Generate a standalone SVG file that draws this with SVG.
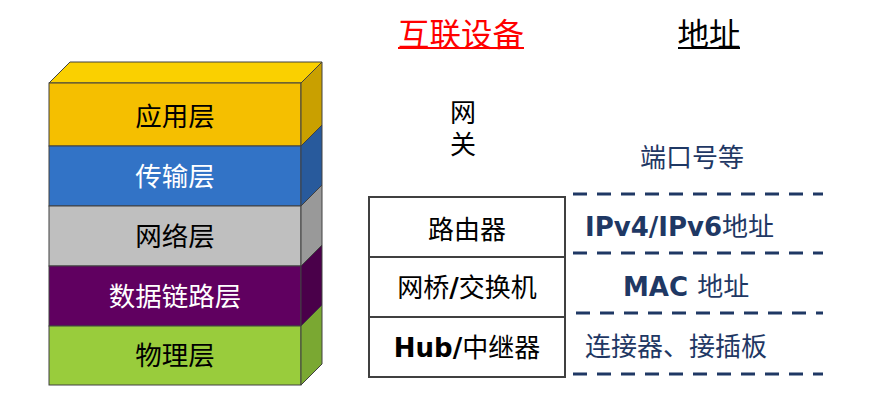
<svg xmlns="http://www.w3.org/2000/svg" width="872" height="400" viewBox="0 0 872 400">
<style>
text{font-family:"Liberation Sans","Noto Sans CJK SC",sans-serif;dominant-baseline:central}
.c{text-anchor:middle}
.lay{font-size:26.5px;text-anchor:middle}
.dark{fill:#000}
.light{fill:#fff}
.edge{stroke:#404040;stroke-width:1}
.dev{fill:#fff;stroke:#404040;stroke-width:2}
.devt{font-size:26px;fill:#000;text-anchor:middle}
.lat{font-family:"DejaVu Sans",sans-serif;font-weight:bold}
.addr{font-size:26px;fill:#1F3864}
.dash{stroke:#1F3864;stroke-width:3;stroke-dasharray:14 10;fill:none}
</style>
<rect width="872" height="400" fill="#fff"/>
<g id="stack">
  <polygon points="49,83 70,62 322,62 301,83" fill="#FAD000" class="edge"/>
  <g id="app">
    <rect x="49" y="83" width="252" height="63" fill="#F5BF00" class="edge"/>
    <polygon points="301,83 322,62 322,125 301,146" fill="#C9A000" class="edge"/>
    <text x="175" y="117" class="lay dark">应用层</text>
  </g>
  <g id="transport">
    <rect x="49" y="146" width="252" height="60" fill="#3273C6" class="edge"/>
    <polygon points="301,146 322,125 322,185 301,206" fill="#285A9C" class="edge"/>
    <text x="175" y="177" class="lay light">传输层</text>
  </g>
  <g id="network">
    <rect x="49" y="206" width="252" height="60" fill="#BFBFBF" class="edge"/>
    <polygon points="301,206 322,185 322,245 301,266" fill="#999999" class="edge"/>
    <text x="175" y="237" class="lay dark">网络层</text>
  </g>
  <g id="datalink">
    <rect x="49" y="266" width="252" height="60" fill="#600060" class="edge"/>
    <polygon points="301,266 322,245 322,305 301,326" fill="#4A004A" class="edge"/>
    <text x="175" y="297" class="lay light">数据链路层</text>
  </g>
  <g id="physical">
    <rect x="49" y="326" width="252" height="59" fill="#99CC3C" class="edge"/>
    <polygon points="301,326 322,305 322,364 301,385" fill="#7AA832" class="edge"/>
    <text x="175" y="356" class="lay dark">物理层</text>
  </g>
</g>
<g id="headers">
  <text x="461" y="35" font-size="31.5" fill="#FF0000" class="c">互联设备</text>
  <line x1="398" y1="48" x2="524" y2="48" stroke="#FF0000" stroke-width="2"/>
  <text x="709" y="35" font-size="31.5" fill="#000" class="c">地址</text>
  <line x1="678" y1="48" x2="740" y2="48" stroke="#000" stroke-width="2"/>
</g>
<g id="gateway">
  <text x="463" y="113" class="devt" font-size="24">网</text>
  <text x="463" y="145" class="devt" font-size="24">关</text>
</g>
<g id="router">
  <rect x="369" y="197" width="196" height="60" class="dev"/>
  <text x="467" y="230" class="devt">路由器</text>
</g>
<g id="switch">
  <rect x="369" y="257" width="196" height="60" class="dev"/>
  <text x="467" y="288" class="devt">网桥<tspan class="lat">/</tspan>交换机</text>
</g>
<g id="hub">
  <rect x="369" y="317" width="196" height="60" class="dev"/>
  <text x="467" y="348" class="devt"><tspan class="lat">Hub/</tspan>中继器</text>
</g>
<g id="connectors">
  <line x1="573" y1="194" x2="823" y2="194" class="dash"/>
  <line x1="573" y1="253" x2="823" y2="253" class="dash"/>
  <line x1="576" y1="313" x2="823" y2="313" class="dash"/>
  <line x1="573" y1="374" x2="823" y2="374" class="dash"/>
</g>
<g id="addresses">
  <text x="640" y="158" class="addr">端口号等</text>
  <text x="585" y="227" class="addr"><tspan class="lat">IPv4/IPv6</tspan>地址</text>
  <text x="623" y="287" class="addr"><tspan class="lat">MAC </tspan>地址</text>
  <text x="585" y="347" class="addr">连接器、接插板</text>
</g>
</svg>
